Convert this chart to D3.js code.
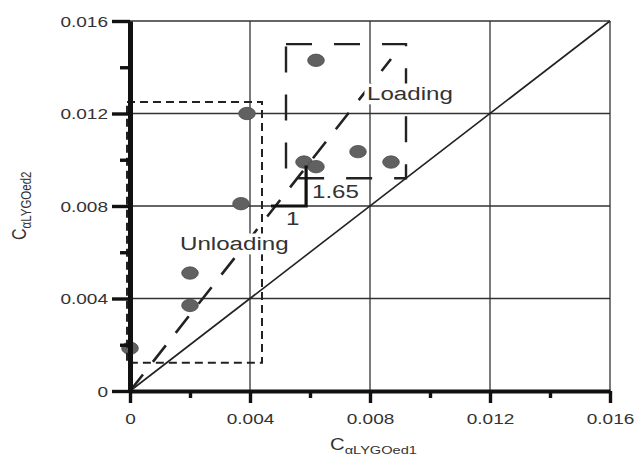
<!DOCTYPE html>
<html><head><meta charset="utf-8">
<script src="https://cdn.jsdelivr.net/npm/d3@7"></script>
<style>body{margin:0;background:#fff}svg{display:block}text{font-family:"Liberation Sans",Arial,sans-serif}</style>
</head><body>
<svg id="c" width="637" height="456"></svg>
<script>
// ---- data ----
const majorTicks = [0, 0.004, 0.008, 0.012, 0.016];
const minorTicks = [0.002, 0.006, 0.010, 0.014];
const pointX = [0.0, 0.0020, 0.0020, 0.0037, 0.0039, 0.0058, 0.0062, 0.0062, 0.0076, 0.0087];
const pointY = [0.00185, 0.0037, 0.0051, 0.0081, 0.0120, 0.0099, 0.0097, 0.0143, 0.01035, 0.0099];
const unloadBoxX = [-0.0001, 0.0044];
const unloadBoxY = [0.00122, 0.0125];
const loadBoxX = [0.0052, 0.0092];
const loadBoxY = [0.0092, 0.0150];
const slope = 1.65;
const slopeLineEndX = 0.0087;
const triX = [0.0047, 0.00587];
const triY = [0.008, 0.00975];
const xLabel = ["C", "αLYGOed1"];
const yLabel = ["C", "αLYGOed2"];

const SX = 1.27; // horizontal stretch of the original picture
const svg = d3.select("#c");
const x = d3.scaleLinear().domain([0, 0.016]).range([130, 610]);
const y = d3.scaleLinear().domain([0, 0.016]).range([391, 21]);
const fmt = d => d === 0 ? "0" : d3.format(".3f")(d);
const ink = "#222";

// grid
const grid = svg.append("g").attr("stroke", "#333").attr("stroke-width", 1.3);
majorTicks.slice(1).forEach(v => {
  grid.append("line").attr("x1", x(v)).attr("x2", x(v)).attr("y1", y(0)).attr("y2", y(0.016));
  grid.append("line").attr("x1", x(0)).attr("x2", x(0.016)).attr("y1", y(v)).attr("y2", y(v));
});

// 1:1 line
svg.append("line").attr("x1", x(0)).attr("y1", y(0)).attr("x2", x(0.016)).attr("y2", y(0.016))
  .attr("stroke", ink).attr("stroke-width", 1.6);

// points
pointX.forEach((px, i) => {
  svg.append("ellipse").attr("cx", x(px)).attr("cy", y(pointY[i])).attr("rx", 8.3).attr("ry", 6.2)
    .attr("fill", "#616161").attr("stroke", "#4a4a4a").attr("stroke-width", 0.8);
});

// dashed slope line
svg.append("line").attr("x1", x(0)).attr("y1", y(0)).attr("x2", x(slopeLineEndX)).attr("y2", y(slopeLineEndX * slope))
  .attr("stroke", ink).attr("stroke-width", 2.6).attr("stroke-dasharray", "21,16");

// boxes
svg.append("rect").attr("x", x(unloadBoxX[0])).attr("y", y(unloadBoxY[1]))
  .attr("width", x(unloadBoxX[1]) - x(unloadBoxX[0])).attr("height", y(unloadBoxY[0]) - y(unloadBoxY[1]))
  .attr("fill", "none").attr("stroke", ink).attr("stroke-width", 2).attr("stroke-dasharray", "8,5");
svg.append("rect").attr("x", x(loadBoxX[0])).attr("y", y(loadBoxY[1]))
  .attr("width", x(loadBoxX[1]) - x(loadBoxX[0])).attr("height", y(loadBoxY[0]) - y(loadBoxY[1]))
  .attr("fill", "none").attr("stroke", ink).attr("stroke-width", 2.4).attr("stroke-dasharray", "26,22");

// slope triangle
svg.append("path").attr("d", `M${x(triX[0])},${y(triY[0])}H${x(triX[1])}V${y(triY[1])}`)
  .attr("fill", "none").attr("stroke", "#111").attr("stroke-width", 3.2);

// axes
const yAxis = svg.append("g").attr("transform", `translate(${x(0)},0)`)
  .call(d3.axisLeft(y).tickValues(majorTicks).tickSize(18).tickSizeOuter(0).tickFormat(fmt));
svg.append("g").attr("transform", `translate(${x(0)},0)`)
  .call(d3.axisLeft(y).tickValues(minorTicks).tickSize(10).tickSizeOuter(0).tickFormat(""));
const xAxis = svg.append("g").attr("transform", `translate(0,${y(0)})`)
  .call(d3.axisBottom(x).tickValues(majorTicks).tickSize(12).tickSizeOuter(0).tickFormat(fmt));
svg.append("g").attr("transform", `translate(0,${y(0)})`)
  .call(d3.axisBottom(x).tickValues(minorTicks).tickSize(7).tickSizeOuter(0).tickFormat(""));
svg.selectAll(".domain").attr("stroke", "#111");
yAxis.select(".domain").attr("stroke-width", 5);
xAxis.select(".domain").attr("stroke-width", 4);
svg.selectAll(".tick line").attr("stroke", "#111").attr("stroke-width", 3.4);
svg.selectAll(".tick text").attr("font-size", 15).attr("fill", "#333");
yAxis.selectAll(".tick text").attr("x", null).attr("dy", "0.36em")
  .attr("transform", `translate(-22,0) scale(${SX},1)`);
xAxis.selectAll(".tick text").attr("y", null).attr("dy", null)
  .attr("transform", `translate(0,33) scale(${SX},1)`);

// text helper
function label(txt, px, py, size, boxed) {
  const g = svg.append("g").attr("transform", `translate(${px},${py}) scale(${SX},1)`);
  const t = g.append("text").attr("font-size", size).attr("fill", "#333").text(txt);
  if (boxed) {
    const b = t.node().getBBox();
    g.insert("rect", "text").attr("x", b.x - 2).attr("y", b.y + 1).attr("width", b.width + 4).attr("height", b.height - 1)
      .attr("fill", "#fff");
  }
  return g;
}
label("Loading", 367, 100, 19, true);
label("Unloading", 180, 250, 19, true);
label("1.65", 312, 198, 19, false);
label("1", 286, 225, 19, false);

// axis titles
const xt = svg.append("text").attr("transform", `translate(330,450) scale(${SX},1)`).attr("fill", "#333");
xt.append("tspan").attr("font-size", 16).text(xLabel[0]);
xt.append("tspan").attr("font-size", 11.5).attr("dy", 4).text(xLabel[1]);
const yt = svg.append("text").attr("transform", `translate(26,240) rotate(-90) scale(1,${SX})`).attr("fill", "#333");
yt.append("tspan").attr("font-size", 16).text(yLabel[0]);
yt.append("tspan").attr("font-size", 11.5).attr("dy", 4).text(yLabel[1]);
</script>
</body></html>
